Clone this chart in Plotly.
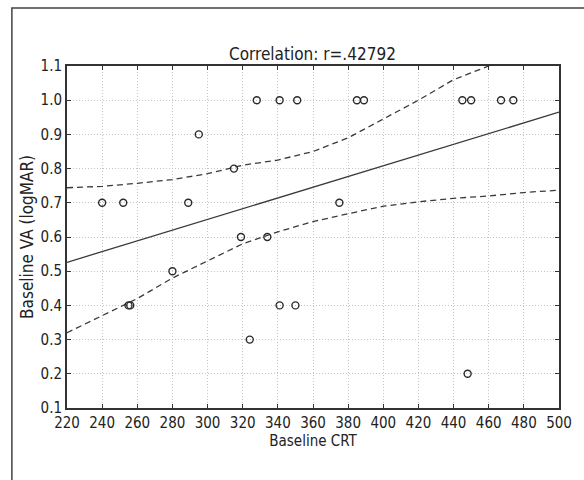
import plotly.graph_objects as go

# Baseline CRT (x) vs baseline visual acuity in logMAR (y)
crt = [328, 341, 351, 385, 389, 445, 450, 467, 474,
       295,
       315,
       240, 252, 289, 375,
       319, 334,
       280,
       255, 256, 341, 350,
       324,
       448]
va = [1.0, 1.0, 1.0, 1.0, 1.0, 1.0, 1.0, 1.0, 1.0,
      0.9,
      0.8,
      0.7, 0.7, 0.7, 0.7,
      0.6, 0.6,
      0.5,
      0.4, 0.4, 0.4, 0.4,
      0.3,
      0.2]

# Fitted regression line and its 95% confidence band
fit_x = [220, 500]
fit_y = [0.526, 0.965]
band_x = [220, 240, 260, 280, 300, 320, 340, 360, 380, 400, 420, 440, 460, 480, 500]
band_upper = [0.744, 0.748, 0.757, 0.768, 0.785, 0.810, 0.825, 0.850, 0.890,
              0.945, 1.000, 1.060, 1.100, 1.150, 1.200]
band_lower = [0.320, 0.370, 0.420, 0.480, 0.530, 0.580, 0.615, 0.645, 0.668,
              0.690, 0.703, 0.713, 0.720, 0.730, 0.737]

x_ticks = list(range(220, 501, 20))
y_ticks = [0.1, 0.2, 0.3, 0.4, 0.5, 0.6, 0.7, 0.8, 0.9, 1.0, 1.1]

FONT = "DejaVu Sans Condensed, DejaVu Sans, sans-serif"
INK = "#222222"
LINE = "#3a3a3a"

fig = go.Figure()

fig.add_trace(go.Scatter(
    x=band_x, y=band_upper, mode="lines",
    line=dict(color=LINE, width=1.3, dash="6px,4px"),
    hoverinfo="skip", showlegend=False))
fig.add_trace(go.Scatter(
    x=band_x, y=band_lower, mode="lines",
    line=dict(color=LINE, width=1.3, dash="6px,4px"),
    hoverinfo="skip", showlegend=False))
fig.add_trace(go.Scatter(
    x=fit_x, y=fit_y, mode="lines",
    line=dict(color=LINE, width=1.3),
    hoverinfo="skip", showlegend=False))
fig.add_trace(go.Scatter(
    x=crt, y=va, mode="markers",
    marker=dict(symbol="circle-open", size=7, color="#2a2a2a",
                line=dict(width=1.4, color="#2a2a2a")),
    cliponaxis=False, showlegend=False))

axis_common = dict(
    showline=True, linewidth=2, linecolor="#333333", mirror="ticks",
    ticks="inside", ticklen=4, tickwidth=1.2, tickcolor="#333333",
    showgrid=True, gridcolor="#c4c4c4", griddash="1px,2px", gridwidth=1,
    zeroline=False,
    tickfont=dict(family=FONT, size=15, color=INK),
)

fig.update_xaxes(range=[220, 500], tickvals=x_ticks,
                 ticktext=[str(v) for v in x_ticks],
                 title_text="Baseline CRT", title_standoff=1,
                 title_font=dict(family=FONT, size=15, color=INK),
                 **axis_common)
fig.update_yaxes(range=[0.1, 1.1], tickvals=y_ticks,
                 ticktext=[f"{v:.1f}" for v in y_ticks],
                 title_text="Baseline VA (logMAR)", title_standoff=3,
                 title_font=dict(family=FONT, size=17, color=INK),
                 **axis_common)

fig.update_layout(
    width=584, height=480,
    margin=dict(l=67, r=17, t=66, b=72),
    paper_bgcolor="white", plot_bgcolor="white",
    title=dict(text="Correlation: r=.42792", x=0.535, xanchor="center",
               y=0.888, yanchor="middle",
               font=dict(family=FONT, size=17, color=INK)),
    shapes=[dict(type="rect", xref="paper", yref="paper",
                 x0=-0.112, y0=-0.3, x1=1.1, y1=1.1696,
                 line=dict(color="#444444", width=1.5), layer="below")],
)

fig.write_html("out.html")
